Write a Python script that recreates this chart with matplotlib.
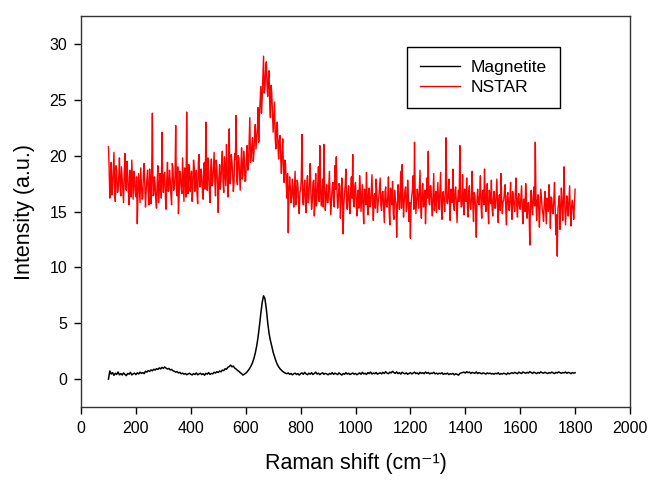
import numpy as np
import matplotlib
matplotlib.use("Agg")
import matplotlib.pyplot as plt

plt.rcParams['font.family'] = ['Liberation Sans', 'DejaVu Sans']

# Raman shift grid (cm^-1), 5 cm^-1 steps from 100 to 1800
shift = np.arange(100, 1801, 5)
# NSTAR is sampled twice as densely: extra points half-way between grid points
shift_mid = np.arange(102.5, 1800, 5)

# NSTAR spectrum (a.u.) on the main grid
nstar = [
    20.8, 16.2, 19.4, 17.1, 20.3, 15.9, 18.6, 16.8, 19.8, 16.4, 17.9, 15.8, 20.2, 16.9, 18.3, 15.6, 17.7, 19.6, 16.1, 18.0,
    16.3, 13.9, 18.4, 15.8, 17.6, 16.2, 19.3, 15.4, 17.9, 16.6, 18.8, 15.7, 23.8, 16.5, 17.4, 15.3, 19.1, 16.8, 18.2, 22.1,
    16.7, 18.5, 15.2, 19.4, 16.9, 17.8, 15.6, 18.9, 17.2, 22.7, 16.4, 14.8, 18.6, 17.1, 19.8, 15.9, 18.3, 23.9, 16.6, 19.1,
    17.4, 15.9, 19.6, 16.8, 18.7, 15.7, 20.1, 17.3, 18.2, 16.1, 19.4, 23.0, 16.9, 18.5, 15.8, 19.7, 17.6, 20.3, 16.4, 18.9,
    14.9, 19.2, 17.8, 20.4, 16.7, 18.6, 21.0, 16.3, 22.4, 17.9, 19.5, 16.8, 20.2, 23.6, 17.4, 19.8, 16.9, 20.7, 18.3, 19.6,
    17.8, 20.9, 19.1, 23.4, 19.8, 21.6, 20.2, 22.8, 21.4, 24.3, 23.6, 26.2, 25.1, 28.9, 26.0, 28.4, 25.3, 27.6, 23.4, 25.6,
    22.1, 24.8, 20.6, 23.0, 19.7, 21.8, 18.4, 21.5, 17.6, 19.3, 16.2, 13.1, 18.1, 15.8, 17.9, 15.4, 18.6, 16.3, 17.5, 14.8,
    16.9, 21.9, 15.6, 17.8, 14.9, 18.2, 16.1, 19.3, 15.2, 17.6, 14.6, 18.4, 16.3, 19.0, 20.9, 15.5, 17.9, 21.0, 15.1, 17.4,
    15.8, 18.6, 14.7, 17.2, 16.0, 19.1, 19.9, 15.3, 17.5, 14.4, 18.0, 13.0, 16.6, 18.8, 15.2, 17.3, 14.8, 18.1, 20.1, 15.4,
    17.6, 14.6, 16.9, 18.2, 15.0, 17.4, 13.9, 16.8, 18.5, 14.7, 17.1, 15.5, 18.3, 14.2, 16.6, 17.9, 14.9, 16.3, 18.0, 15.1,
    16.8, 14.0, 17.2, 15.4, 18.1, 13.8, 16.5, 17.7, 14.3, 16.0, 12.7, 17.4, 15.2, 18.6, 19.2, 14.5, 16.9, 15.0, 17.8, 14.1,
    12.6, 16.4, 18.2, 21.2, 14.8, 17.0, 15.3, 18.7, 14.4, 17.5, 15.9, 13.9, 18.0, 20.4, 15.6, 17.3, 14.6, 18.4, 16.1, 14.9,
    17.6, 15.2, 18.5, 14.3, 16.8, 15.0, 21.6, 15.7, 17.9, 14.2, 16.5, 18.8, 15.1, 17.2, 14.0, 16.9, 20.9, 15.4, 18.3, 14.7,
    16.6, 18.0, 14.5, 17.3, 15.2, 18.6, 14.1, 16.4, 12.7, 17.0, 15.6, 18.2, 14.4, 16.9, 18.8, 15.0, 17.5, 13.9, 16.2, 17.8,
    14.6, 16.8, 15.3, 17.9, 14.0, 16.5, 18.4, 14.8, 16.0, 17.4, 13.8, 16.7, 15.1, 17.6, 14.3, 16.2, 15.0, 18.0, 14.5, 16.6,
    15.2, 17.3, 13.9, 16.1, 17.5, 14.4, 15.8, 12.0, 16.9, 14.7, 17.2, 21.2, 14.2, 16.5, 13.6, 17.0, 15.3, 14.1, 16.8, 13.9,
    15.9, 17.4, 13.5, 16.2, 14.8, 17.6, 12.9, 11.0, 15.7, 13.4, 17.1, 14.2, 19.0, 13.8, 16.4, 14.6, 17.3, 13.7, 16.0, 14.3,
    17.0,
]

# NSTAR spectrum (a.u.) at the half-way points
nstar_mid = [
    18.9, 17.3, 16.5, 18.8, 17.0, 19.1, 16.7, 18.1, 17.4, 19.0, 16.9, 18.4, 17.2, 19.5, 16.8, 18.7, 16.3, 17.9, 18.6, 16.7,
    18.1, 16.6, 17.0, 18.9, 16.1, 18.5, 17.2, 16.9, 18.7, 15.6, 17.5, 18.6, 16.4, 18.1, 16.0, 17.7, 15.8, 18.4, 16.2, 17.9,
    18.3, 16.2, 17.9, 16.8, 18.7, 16.5, 19.3, 16.9, 18.1, 17.3, 19.0, 16.4, 18.2, 16.6, 17.8, 18.9, 16.3, 17.7, 19.2, 16.8,
    18.6, 17.1, 18.9, 17.5, 16.6, 19.4, 17.2, 18.8, 16.7, 19.3, 17.0, 18.4, 19.8, 16.9, 18.7, 17.3, 19.0, 17.8, 19.6, 17.4,
    18.1, 17.0, 19.4, 17.6, 19.9, 17.3, 19.0, 18.2, 17.5, 20.1, 18.3, 17.6, 19.7, 17.8, 20.0, 18.4, 19.1, 17.9, 20.4, 17.7,
    19.6, 18.7, 21.2, 19.4, 21.0, 19.5, 21.9, 20.6, 22.3, 21.2, 24.9, 23.8, 27.1, 25.6, 27.6, 26.4, 26.9, 24.6, 26.3, 23.8,
    23.4, 21.5, 22.6, 20.9, 21.4, 19.8, 20.3, 18.9, 19.6, 17.5, 18.4, 16.8, 17.2, 16.3, 17.0, 16.9, 15.6, 17.8, 15.9, 16.7,
    18.0, 16.0, 17.1, 15.7, 17.4, 15.8, 17.9, 16.6, 15.9, 17.8, 16.2, 15.5, 17.5, 15.9, 17.0, 16.7, 15.4, 17.1, 16.5, 15.8,
    17.1, 16.3, 15.9, 17.6, 15.4, 17.0, 16.8, 16.1, 17.3, 15.7, 16.9, 15.6, 17.4, 15.8, 16.7, 15.5, 17.0, 16.2, 15.9, 17.2,
    15.8, 16.5, 15.3, 16.9, 16.2, 15.2, 17.0, 15.6, 16.1, 16.6, 15.4, 16.8, 15.7, 16.4, 15.3, 16.9, 15.8, 17.2, 15.5, 16.7,
    15.3, 16.8, 15.5, 16.3, 15.0, 17.1, 15.6, 14.8, 16.9, 15.7, 15.4, 16.2, 16.9, 15.3, 16.5, 15.9, 17.2, 15.3, 16.4, 15.8,
    15.6, 17.0, 15.2, 16.6, 15.9, 16.3, 17.0, 15.5, 16.8, 15.4, 16.9, 15.7, 16.2, 15.8, 17.3, 15.6, 16.5, 15.1, 16.8, 16.3,
    15.9, 16.8, 15.4, 16.6, 15.7, 17.1, 15.9, 16.4, 15.6, 17.0, 15.8, 15.7, 16.9, 15.6, 16.1, 15.9, 16.6, 15.5, 16.2, 17.0,
    15.9, 15.6, 16.8, 15.4, 16.3, 15.5, 16.7, 15.3, 16.0, 15.8, 16.6, 15.4, 16.8, 15.6, 16.4, 16.5, 15.2, 16.9, 15.7, 15.3,
    16.2, 15.3, 16.7, 15.5, 16.4, 15.1, 16.2, 15.9, 16.8, 15.2, 16.4, 15.6, 16.1, 15.5, 16.8, 15.4, 16.9, 15.5, 16.2, 15.4,
    16.3, 15.2, 16.1, 15.0, 16.2, 15.6, 14.8, 16.0, 15.3, 16.4, 15.5, 15.9, 16.0, 15.2, 15.7, 16.1, 14.8, 15.6, 15.3, 16.2,
    15.0, 15.7, 16.3, 14.9, 16.0, 15.2, 14.7, 15.3, 16.4, 15.0, 15.8, 16.1, 15.4, 15.2, 15.7, 16.0, 15.1, 15.5, 15.3, 15.6,
]

# Magnetite spectrum (a.u.)
magnetite = [
    0.00, 0.72, 0.45, 0.58, 0.33, 0.52, 0.41, 0.63, 0.38, 0.49, 0.36, 0.55, 0.42, 0.31, 0.50, 0.44, 0.60, 0.37, 0.47, 0.53,
    0.40, 0.56, 0.46, 0.62, 0.51, 0.58, 0.49, 0.70, 0.63, 0.75, 0.68, 0.82, 0.74, 0.88, 0.80, 0.93, 0.86, 1.00, 0.91, 1.05,
    0.96, 1.08, 0.98, 0.90, 0.95, 0.82, 0.86, 0.74, 0.70, 0.62, 0.66, 0.55, 0.60, 0.48, 0.53, 0.44, 0.50, 0.39, 0.46, 0.52,
    0.43, 0.37, 0.49, 0.41, 0.55, 0.38, 0.46, 0.52, 0.40, 0.48, 0.35, 0.51, 0.44, 0.58, 0.42, 0.50, 0.47, 0.61, 0.54, 0.66,
    0.59, 0.72, 0.66, 0.80, 0.76, 0.92, 0.88, 1.05, 1.12, 1.25, 1.10, 1.16, 0.98, 0.90, 0.78, 0.70, 0.58, 0.48, 0.36, 0.44,
    0.52, 0.64, 0.80, 0.98, 1.20, 1.48, 1.85, 2.35, 2.95, 3.75, 4.75, 5.85, 6.85, 7.45, 7.20, 6.30, 5.10, 4.10, 3.45, 2.95,
    2.40, 2.00, 1.62, 1.32, 1.10, 0.92, 0.80, 0.68, 0.60, 0.52, 0.48, 0.55, 0.42, 0.50, 0.38, 0.47, 0.53, 0.41, 0.49, 0.36,
    0.48, 0.55, 0.43, 0.60, 0.46, 0.39, 0.52, 0.44, 0.57, 0.41, 0.50, 0.62, 0.45, 0.53, 0.40, 0.49, 0.56, 0.43, 0.51, 0.47,
    0.38, 0.50, 0.44, 0.58, 0.42, 0.53, 0.47, 0.40, 0.55, 0.46, 0.36, 0.49, 0.43, 0.57, 0.45, 0.52, 0.41, 0.48, 0.54, 0.44,
    0.50, 0.39, 0.47, 0.55, 0.43, 0.60, 0.46, 0.52, 0.41, 0.58, 0.49, 0.63, 0.45, 0.54, 0.48, 0.59, 0.44, 0.51, 0.56, 0.47,
    0.60, 0.50, 0.66, 0.53, 0.48, 0.62, 0.55, 0.70, 0.58, 0.51, 0.64, 0.49, 0.57, 0.45, 0.61, 0.52, 0.47, 0.56, 0.43, 0.50,
    0.58, 0.46, 0.53, 0.62, 0.49, 0.55, 0.44, 0.60, 0.51, 0.57, 0.48, 0.63, 0.52, 0.59, 0.46, 0.54, 0.50, 0.61, 0.47, 0.53,
    0.45, 0.52, 0.48, 0.56, 0.42, 0.50, 0.46, 0.53, 0.40, 0.48, 0.44, 0.51, 0.38, 0.47, 0.43, 0.35, 0.49, 0.55, 0.58, 0.62,
    0.54, 0.66, 0.57, 0.63, 0.50, 0.60, 0.55, 0.52, 0.64, 0.49, 0.58, 0.53, 0.47, 0.56, 0.51, 0.45, 0.55, 0.49, 0.53, 0.46,
    0.50, 0.44, 0.52, 0.47, 0.56, 0.42, 0.49, 0.45, 0.53, 0.48, 0.41, 0.55, 0.46, 0.51, 0.57, 0.50, 0.60, 0.54, 0.48, 0.62,
    0.55, 0.50, 0.63, 0.57, 0.52, 0.60, 0.54, 0.66, 0.58, 0.51, 0.62, 0.56, 0.49, 0.59, 0.53, 0.64, 0.57, 0.52, 0.61, 0.55,
    0.50, 0.58, 0.53, 0.62, 0.56, 0.49, 0.60, 0.54, 0.64, 0.57, 0.51, 0.59, 0.55, 0.63, 0.52, 0.60, 0.56, 0.49, 0.58, 0.53,
    0.57,
]

x_ticks = [0, 200, 400, 600, 800, 1000, 1200, 1400, 1600, 1800, 2000]
y_ticks = [0, 5, 10, 15, 20, 25, 30]

# merge the two NSTAR samplings into one trace ordered by shift
nstar_x = np.concatenate([shift, shift_mid])
nstar_y = np.concatenate([nstar, nstar_mid])
order = np.argsort(nstar_x)
nstar_x, nstar_y = nstar_x[order], nstar_y[order]

fig = plt.figure(figsize=(6.49, 4.82), dpi=100)
ax = fig.add_axes([81 / 649, 1 - 407 / 482, (630 - 81) / 649, (407 - 16) / 482])

ax.plot(shift, magnetite, color='black', lw=1.1, label='Magnetite')
ax.plot(nstar_x, nstar_y, color='#ff0000', lw=1.0, label='NSTAR')

ax.set_xlim(0, 2000)
ax.set_ylim(-2.5, 32.5)
ax.set_xticks(x_ticks)
ax.set_yticks(y_ticks)
ax.tick_params(direction='out', length=5, width=1, labelsize=11.5, pad=5,
               top=False, right=False, colors='black')
for sp in ax.spines.values():
    sp.set_linewidth(1)
    sp.set_color('#333333')

ax.set_xlabel('Raman shift (cm\u207b\u00b9)', fontsize=15.5, labelpad=12)
ax.set_ylabel('Intensity (a.u.)', fontsize=15.5, labelpad=10)

leg = ax.legend(loc='upper left', bbox_to_anchor=(407 / 649, 1 - 47 / 482),
                bbox_transform=fig.transFigure, fontsize=12.5, frameon=True,
                fancybox=False, edgecolor='black', framealpha=1,
                handlelength=2.3, handletextpad=0.6, labelspacing=0.25,
                borderpad=0.75, borderaxespad=0)
leg.get_frame().set_linewidth(1)
for h in leg.get_lines():
    h.set_linewidth(1)

fig.savefig('out.png', dpi=100)
